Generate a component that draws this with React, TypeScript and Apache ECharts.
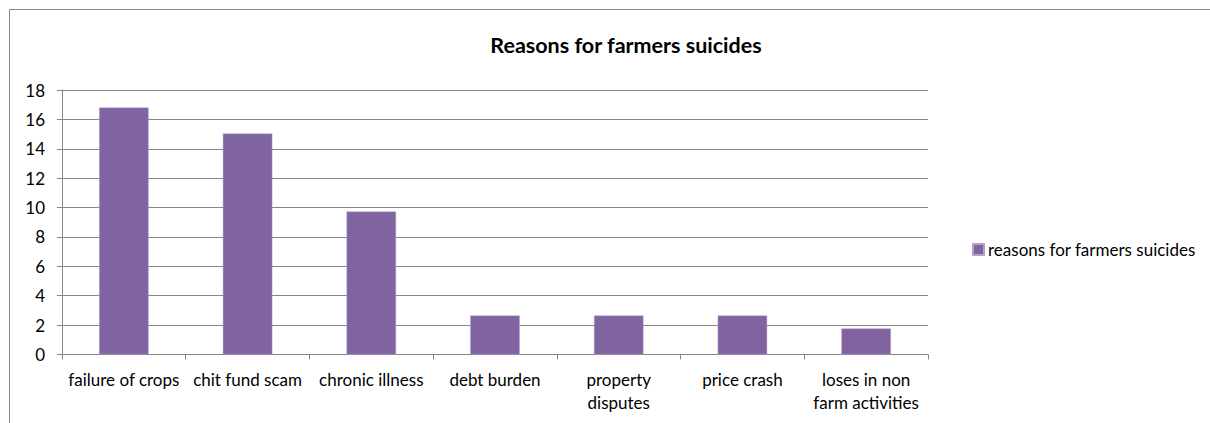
import React, { useEffect, useRef } from "react";
import * as echarts from "echarts";

const categories = [
  "failure of crops",
  "chit fund scam",
  "chronic illness",
  "debt burden",
  "property\ndisputes",
  "price crash",
  "loses in non\nfarm activities",
];
const values = [16.81, 15.04, 9.73, 2.65, 2.65, 2.65, 1.77];
const seriesName = "reasons for farmers suicides";
const titleText = "Reasons for farmers suicides";

export default function App() {
  const ref = useRef<HTMLDivElement>(null);
  useEffect(() => {
    if (!ref.current) return;
    const chart = echarts.init(ref.current, undefined, { renderer: "svg" });
    const font = "Lato, 'Liberation Sans', sans-serif";
    chart.setOption({
      animation: false,
      textStyle: { fontFamily: font },
      title: {
        text: titleText,
        left: 621,
        textAlign: "center",
        top: 29,
        textStyle: { fontFamily: font, fontSize: 21.5, fontWeight: "bold", color: "#000" },
      },
      legend: {
        show: true,
        left: 967,
        top: 236,
        itemWidth: 11,
        itemHeight: 11,
        itemGap: 4,
        icon: "rect",
        textStyle: { fontFamily: font, fontSize: 17, color: "#000", padding: [0, 0, 0, -1] },
        data: [seriesName],
      },
      grid: { left: 62, right: 282, top: 90, bottom: 68.5, containLabel: false },
      xAxis: {
        type: "category",
        data: categories,
        axisLine: { lineStyle: { color: "#868686", width: 1 } },
        axisTick: { show: true, length: 5, alignWithLabel: false, lineStyle: { color: "#868686" } },
        axisLabel: {
          interval: 0,
          margin: 13,
          fontFamily: font,
          fontSize: 17,
          color: "#000",
          lineHeight: 23,
        },
      },
      yAxis: {
        type: "value",
        min: 0,
        max: 18,
        interval: 2,
        axisLine: { show: true, lineStyle: { color: "#868686", width: 1 } },
        axisTick: { show: true, length: 5, lineStyle: { color: "#868686" } },
        splitLine: { show: true, lineStyle: { color: "#868686", width: 1 } },
        axisLabel: { margin: 17, fontFamily: font, fontSize: 17, color: "#000" },
      },
      series: [
        {
          name: seriesName,
          type: "bar",
          data: values,
          barCategoryGap: "60%",
          itemStyle: { color: "#8064A2", borderColor: "#B3A2C7", borderWidth: 0.5 },
        },
      ],
      graphic: [
        {
          type: "rect",
          shape: { x: 9.5, y: 9.5, width: 1300, height: 500 },
          style: { fill: "none", stroke: "#868686", lineWidth: 1 },
          silent: true,
        },
      ],
    });
    return () => chart.dispose();
  }, []);
  return (
    <div
      ref={ref}
      style={{ position: "absolute", left: 0, top: 0, width: 1210, height: 423, background: "#fff" }}
    />
  );
}
